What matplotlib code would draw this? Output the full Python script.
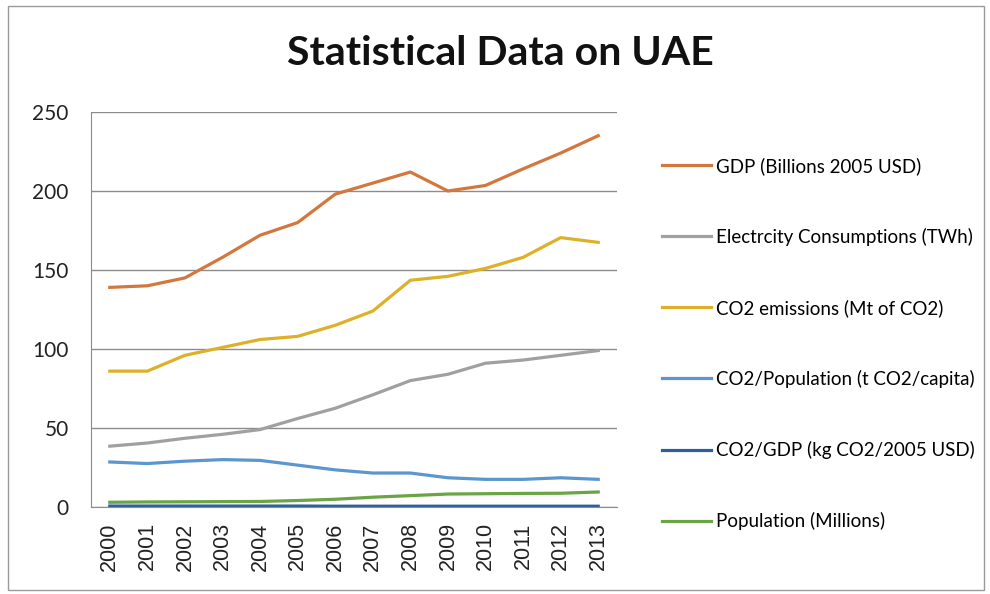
import matplotlib
matplotlib.use("Agg")
import matplotlib.pyplot as plt
from matplotlib.patches import Rectangle

plt.rcParams['font.family'] = ['Lato', 'DejaVu Sans']

years = ['2000', '2001', '2002', '2003', '2004', '2005', '2006',
         '2007', '2008', '2009', '2010', '2011', '2012', '2013']

gdp = [139, 140, 145, 158, 172, 180, 198, 205, 212, 200, 203.5, 214, 224, 235]
elec = [38.5, 40.5, 43.5, 46, 49, 56, 62.5, 71, 80, 84, 91, 93, 96, 99]
co2 = [86, 86, 96, 101, 106, 108, 115, 124, 143.5, 146, 151, 158, 170.5, 167.5]
co2_pop = [28.5, 27.5, 29, 30, 29.5, 26.5, 23.5, 21.5, 21.5, 18.5, 17.5, 17.5, 18.5, 17.5]
co2_gdp = [0.6, 0.6, 0.6, 0.6, 0.6, 0.6, 0.5, 0.5, 0.5, 0.5, 0.5, 0.5, 0.5, 0.5]
population = [3.0, 3.2, 3.3, 3.4, 3.5, 4.1, 4.9, 6.2, 7.2, 8.2, 8.4, 8.6, 8.7, 9.5]

series = [
    ("GDP (Billions 2005 USD)", gdp, "#D2773D"),
    ("Electrcity Consumptions (TWh)", elec, "#A0A0A0"),
    ("CO2 emissions (Mt of CO2)", co2, "#DDB127"),
    ("CO2/Population (t CO2/capita)", co2_pop, "#5B96CF"),
    ("CO2/GDP (kg CO2/2005 USD)", co2_gdp, "#2E5F9C"),
    ("Population (Millions)", population, "#6AA445"),
]

fig = plt.figure(figsize=(9.9, 5.94), dpi=100)
ax = fig.add_axes([91 / 990, 1 - 507 / 594, 526 / 990, 395 / 594])

x = range(len(years))
for name, vals, col in series:
    ax.plot(x, vals, color=col, linewidth=2.3, label=name)

ax.set_xlim(-0.5, 13.5)
ax.set_ylim(0, 250)
ax.set_yticks([0, 50, 100, 150, 200, 250])
ax.set_xticks(list(x))
ax.set_xticklabels(years, rotation=90, family=['Liberation Sans', 'DejaVu Sans'], fontsize=15.5)
ax.tick_params(axis='both', length=0, colors='#222222')
ax.tick_params(axis='y', pad=16, labelsize=15)
ax.tick_params(axis='x', pad=11)
ax.yaxis.grid(True, color='#8c8c8c', linewidth=1)
ax.set_axisbelow(True)
for s in ['top', 'right']:
    ax.spines[s].set_visible(False)
ax.spines['left'].set_color('#8c8c8c')
ax.spines['bottom'].set_color('#8c8c8c')

fig.text(500 / 990, 1 - 65 / 594, "Statistical Data on UAE", ha='center', va='baseline',
         fontsize=29.5, fontweight='bold', color='#111111')

fig.legend(loc='upper left', bbox_to_anchor=(645 / 990, 1 - 140 / 594), frameon=False,
           fontsize=13.5, labelspacing=2.83, handlelength=2.6, handletextpad=0.3)

fig.patches.append(Rectangle((8 / 990, 4 / 594), 976 / 990, 584 / 594, transform=fig.transFigure,
                             fill=False, edgecolor='#9a9a9a', linewidth=1))

fig.savefig("out.png", dpi=100)
